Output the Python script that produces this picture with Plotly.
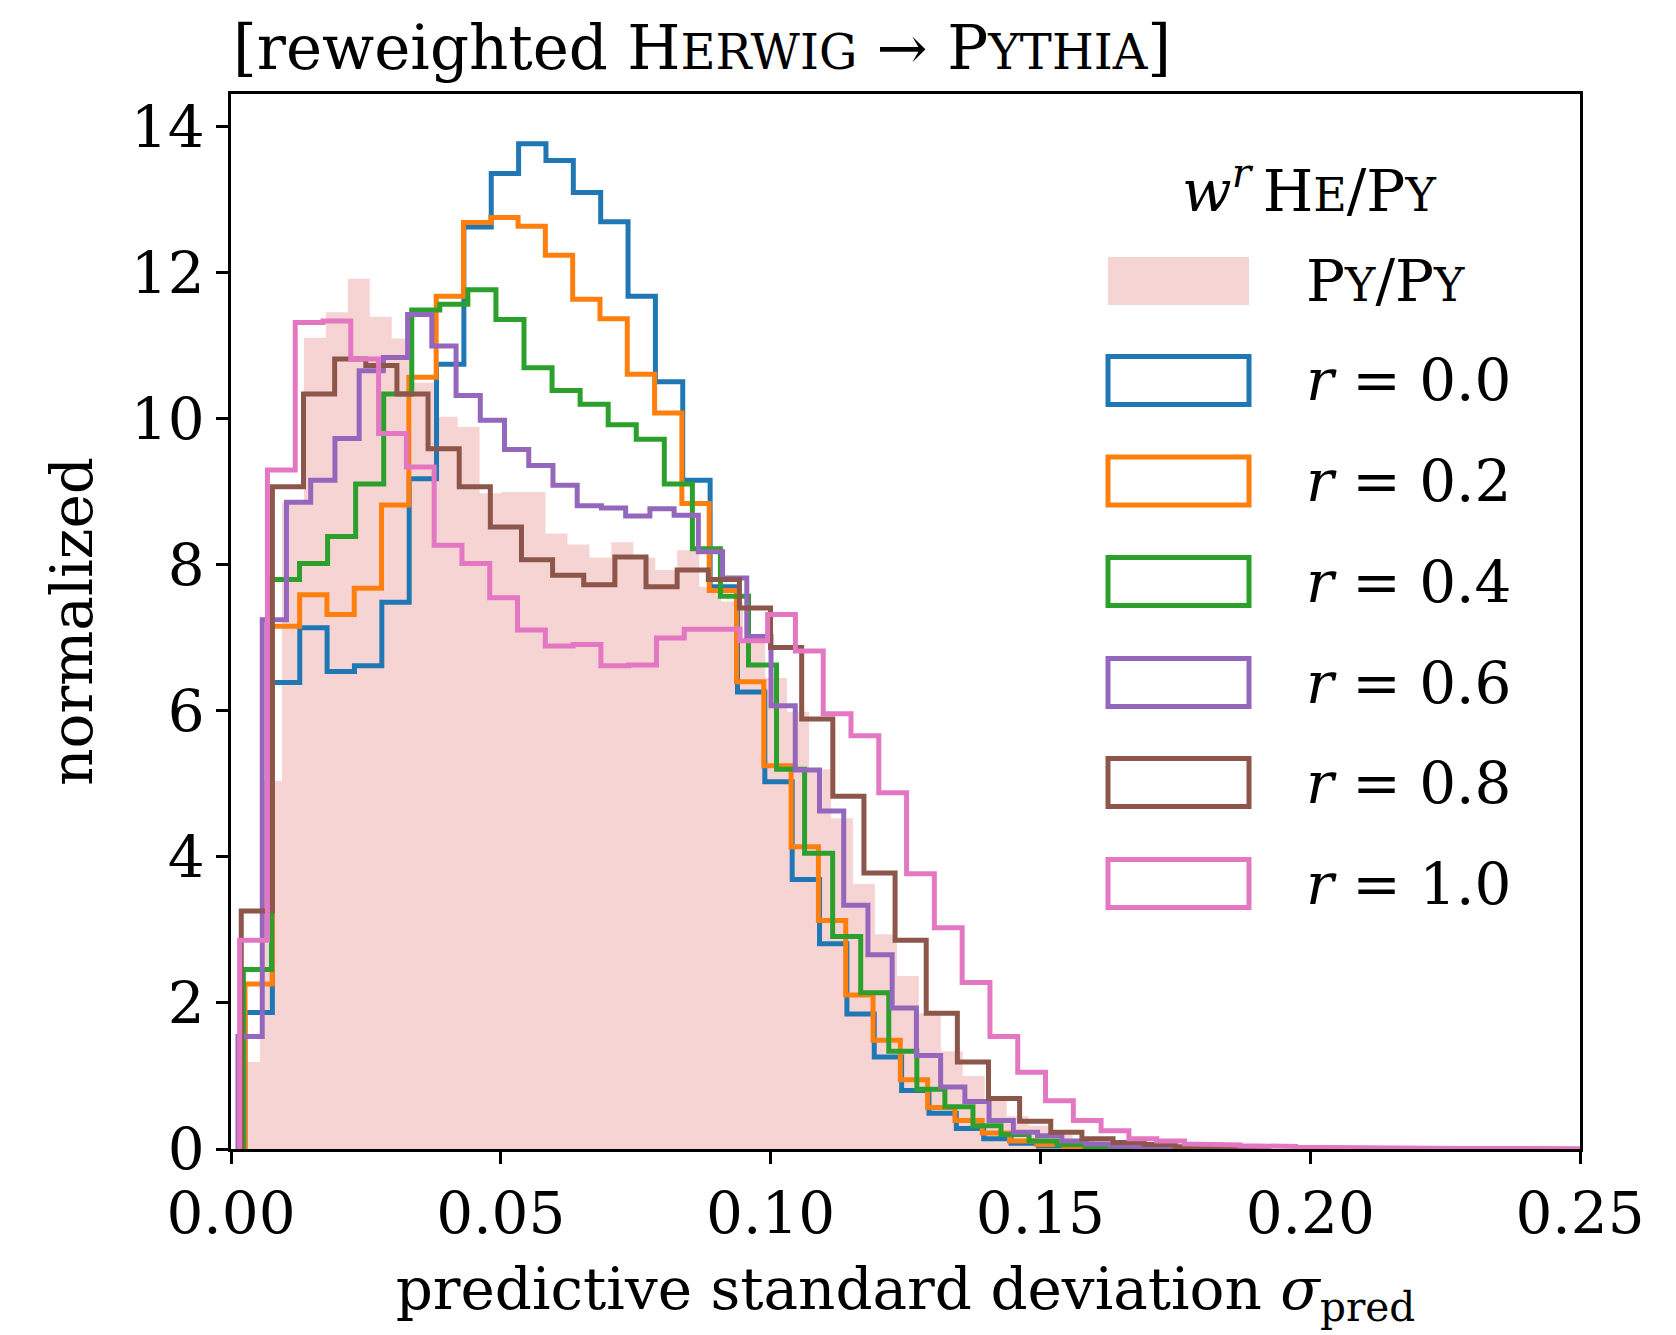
import plotly.graph_objects as go

# ---- histogram data: first bin edge, bin width and normalized bin heights ----
PY_START, PY_WIDTH = 0.0013, 0.00407
py_values = [1.19, 5.04, 8.86, 11.11, 11.46, 11.92, 11.40, 11.10, 10.50, 10.03,
             9.89, 8.98, 9.00, 9.00, 8.43, 8.28, 8.10, 8.31, 8.10, 7.93,
             8.20, 7.70, 7.50, 7.00, 6.45, 5.99, 5.20, 4.53, 3.63, 2.94,
             2.37, 1.86, 1.34, 1.00, 0.66, 0.45, 0.32, 0.20, 0.13, 0.08,
             0.05, 0.03, 0.02, 0.01, 0.01]

r_labels = ["0.0", "0.2", "0.4", "0.6", "0.8", "1.0"]
r_colors = ["#1f77b4", "#ff7f0e", "#2ca02c", "#9467bd", "#8c564b", "#e377c2"]
r_starts = [0.0026, 0.0026, 0.0023, 0.0013, 0.0019, 0.0016]
r_widths = [0.00507, 0.00506, 0.0052, 0.00449, 0.00577, 0.00515]

r00_values = [1.87, 6.39, 7.14, 6.54, 6.62, 7.49, 9.18, 10.75, 12.63, 13.36,
              13.77, 13.54, 13.10, 12.70, 11.68, 10.51, 9.16, 7.70, 6.26, 5.03,
              3.69, 2.81, 1.85, 1.26, 0.80, 0.49, 0.28, 0.14, 0.08, 0.04,
              0.02, 0.01]
r02_values = [2.26, 7.16, 7.59, 7.32, 7.68, 8.82, 10.57, 11.68, 12.69, 12.76,
              12.64, 12.24, 11.64, 11.37, 10.61, 10.08, 8.84, 7.65, 6.40, 5.25,
              4.14, 3.13, 2.11, 1.49, 0.95, 0.57, 0.39, 0.22, 0.11, 0.06,
              0.03, 0.01]
r04_values = [2.46, 7.80, 8.02, 8.39, 9.11, 10.34, 11.49, 11.57, 11.77, 11.36,
              10.70, 10.39, 10.20, 9.92, 9.72, 9.11, 8.22, 7.57, 6.63, 5.20,
              4.05, 2.91, 2.14, 1.34, 0.82, 0.58, 0.32, 0.20, 0.11, 0.06,
              0.03, 0.02, 0.01]
r06_values = [1.54, 7.25, 8.86, 9.16, 9.73, 10.66, 10.84, 11.43, 11.00, 10.32,
              9.98, 9.58, 9.36, 9.09, 8.81, 8.78, 8.67, 8.77, 8.68, 8.18,
              7.82, 7.02, 6.07, 5.19, 4.63, 3.34, 2.66, 1.93, 1.28, 0.85,
              0.65, 0.39, 0.23, 0.18, 0.11, 0.07, 0.04, 0.03, 0.02, 0.01]
r08_values = [3.26, 9.07, 10.34, 10.82, 10.73, 10.34, 9.59, 9.07, 8.52, 8.07,
              7.86, 7.73, 8.11, 7.70, 7.93, 7.80, 7.41, 6.87, 5.89, 4.83,
              3.78, 2.86, 1.86, 1.19, 0.69, 0.38, 0.23, 0.14, 0.09, 0.06,
              0.03, 0.02, 0.01]
r10_values = [2.86, 9.30, 11.32, 11.34, 10.82, 9.80, 9.34, 8.27, 8.02, 7.55,
              7.11, 6.89, 6.91, 6.62, 6.63, 7.00, 7.12, 7.12, 6.96, 7.32,
              6.82, 5.96, 5.66, 4.88, 3.77, 3.03, 2.28, 1.54, 1.05, 0.66,
              0.39, 0.25, 0.14, 0.11, 0.07, 0.055, 0.045, 0.035, 0.025, 0.02,
              0.015, 0.012, 0.01, 0.008, 0.007, 0.006, 0.005, 0.004, 0.004]
r_values = [r00_values, r02_values, r04_values, r06_values, r08_values, r10_values]

x_ticks = [0.0, 0.05, 0.10, 0.15, 0.20, 0.25]
x_ticktext = ["0.00", "0.05", "0.10", "0.15", "0.20", "0.25"]
y_ticks = [0, 2, 4, 6, 8, 10, 12, 14]

FONT = "DejaVu Serif"
FS = 58
SC = 46  # reduced size for small-capital letters
PY_FILL = "rgba(214,39,40,0.2)"
LW = 5


def sc(first, rest, size=SC):
    return f"{first}<span style='font-size:{size}px'>{rest}</span>"


def step_outline(start, width, values):
    xs, ys = [start], [0.0]
    for k, v in enumerate(values):
        x0 = start + k * width
        xs += [x0, x0 + width]
        ys += [v, v]
    xs.append(start + len(values) * width)
    ys.append(0.0)
    return xs, ys


fig = go.Figure()

px, py = step_outline(PY_START, PY_WIDTH, py_values)
fig.add_trace(go.Scatter(x=px, y=py, mode="lines", fill="toself",
                         fillcolor=PY_FILL, line=dict(width=0),
                         hoverinfo="skip", showlegend=False))

for lab, col, s, w, vals in zip(r_labels, r_colors, r_starts, r_widths, r_values):
    xs, ys = step_outline(s, w, vals)
    fig.add_trace(go.Scatter(x=xs, y=ys, mode="lines", name=f"r = {lab}",
                             line=dict(color=col, width=LW),
                             showlegend=False))

# ---- legend drawn by hand: outline patches like step histograms ----
L, T, B = 231, 94, 1149
W, H = 1349, 1055


def pxx(X):
    return (X - L) / W


def pyy(Y):
    return (B - Y) / H


patch_x0, patch_x1 = pxx(1108), pxx(1249)
half_h = 24 / H
text_x = pxx(1304)
row_y = [281, 380.5, 481, 581.5, 682.5, 782.5, 883.5]

shapes = []
annotations = []
shapes.append(dict(type="rect", xref="paper", yref="paper",
                   x0=patch_x0, x1=patch_x1,
                   y0=pyy(row_y[0]) - half_h, y1=pyy(row_y[0]) + half_h,
                   fillcolor=PY_FILL, line=dict(width=0)))
annotations.append(dict(xref="paper", yref="paper", x=text_x, y=pyy(row_y[0]),
                        xanchor="left", yanchor="middle", showarrow=False,
                        text=sc("P", "Y") + "/" + sc("P", "Y")))
for i, (lab, col) in enumerate(zip(r_labels, r_colors)):
    yc = pyy(row_y[i + 1])
    shapes.append(dict(type="rect", xref="paper", yref="paper",
                       x0=patch_x0, x1=patch_x1, y0=yc - half_h, y1=yc + half_h,
                       fillcolor="rgba(0,0,0,0)", line=dict(color=col, width=LW)))
    annotations.append(dict(xref="paper", yref="paper", x=text_x, y=yc,
                            xanchor="left", yanchor="middle", showarrow=False,
                            text=f"<i>r</i> = {lab}"))

annotations.append(dict(xref="paper", yref="paper", x=pxx(1309), y=pyy(187),
                        xanchor="center", yanchor="middle", showarrow=False,
                        text="<i>w</i><sup><i>r</i></sup>\u2009" + sc("H", "E") + "/" + sc("P", "Y")))

annotations.append(dict(xref="paper", yref="paper", x=0, y=pyy(48),
                        xanchor="left", yanchor="middle", showarrow=False,
                        font=dict(family=FONT, size=61, color="black"),
                        text="[reweighted " + sc("H", "ERWIG", 48) + " → "
                             + sc("P", "YTHIA", 48) + "]"))

axis_common = dict(showline=True, mirror=True, linecolor="black", linewidth=2.7,
                   ticks="outside", ticklen=12, tickwidth=2.7, tickcolor="black",
                   showgrid=False, zeroline=False,
                   tickfont=dict(family=FONT, size=FS, color="black"))

fig.update_layout(
    width=1676, height=1335,
    margin=dict(l=L, r=1676 - L - W, t=T, b=1335 - B),
    paper_bgcolor="white", plot_bgcolor="white",
    font=dict(family=FONT, size=FS, color="black"),
    xaxis=dict(range=[0, 0.25], tickvals=x_ticks, ticktext=x_ticktext,
               title=dict(text="predictive standard deviation <i>σ</i><sub>pred</sub>",
                          font=dict(family=FONT, size=FS), standoff=22),
               **axis_common),
    yaxis=dict(range=[0, 14.45], tickvals=y_ticks,
               title=dict(text="normalized", font=dict(family=FONT, size=FS),
                          standoff=20),
               **axis_common),
    shapes=shapes,
    annotations=annotations,
    showlegend=False,
)

fig.write_html("out.html")
